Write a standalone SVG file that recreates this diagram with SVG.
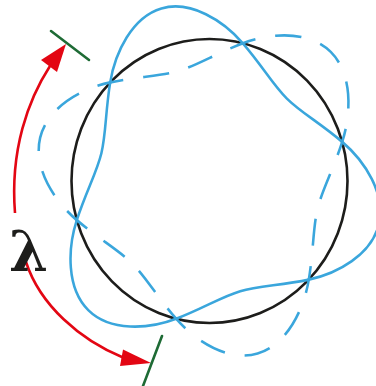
<svg xmlns="http://www.w3.org/2000/svg" width="376" height="386" viewBox="0 0 376 386">
<defs>
<style>
.circ{fill:none;stroke:#1d1d1b;stroke-width:2.6}
.wave{fill:none;stroke:#3aa6dc;stroke-width:2.6;stroke-linecap:round}
.dash{fill:none;stroke:#3aa6dc;stroke-width:2.6;stroke-linecap:butt;stroke-dasharray:25 19;stroke-dashoffset:12.5}
.red{fill:none;stroke:#e30613;stroke-width:2.6}
.head{fill:#e30613}
.tick{stroke:#1e6b35;stroke-width:2.6;stroke-linecap:round}
.lam{font-family:"DejaVu Serif","Liberation Serif",serif;font-weight:bold;font-size:56px;fill:#1d1d1b}
</style>
</defs>
<rect width="376" height="386" fill="#fff"/>
<g id="circle">
<ellipse class="circ" cx="209.5" cy="181" rx="138" ry="142"/>
</g>
<g id="wave-solid" transform="translate(209.5,181) scale(0.986,1.014) rotate(-16)">
<path class="wave" d="M140,0 C156.76,24.43 168.74,61.75 153.29,88.5 C137.84,115.25 99.54,123.53 70,121.24 C40.46,118.95 19.72,113 0,113 C-19.72,113 -40.46,118.950 -70,121.24 C-99.54,123.54 -137.85,115.25 -153.29,88.5 C-168.73,61.74 -156.75,24.43 -140,0 C-123.24,-24.44 -107.72,-39.42 -97.86,-56.5 C-88,-73.58 -82.78,-94.52 -70,-121.24 C-57.22,-147.98 -30.89,-177.01 0,-177 C30.89,-177 57.21,-147.97 70,-121.24 C82.78,-94.52 88,-73.58 97.86,-56.5 C107.72,-39.42 123.24,-24.44 140,0 Z"/>
</g>
<g id="wave-dashed" transform="translate(209.5,181) scale(0.986,1.014) rotate(44)">
<path class="dash" pathLength="176" d="M140,0 C156.76,24.43 168.74,61.75 153.29,88.5 C137.84,115.25 99.54,123.53 70,121.24"/>
<path class="dash" pathLength="132" d="M70,121.24 C40.46,118.95 19.72,113 0,113 C-19.72,113 -40.46,118.95 -70,121.24"/>
<path class="dash" pathLength="176" d="M-70,121.24 C-99.54,123.54 -137.85,115.25 -153.29,88.5 C-168.73,61.74 -156.75,24.43 -140,0"/>
<path class="dash" pathLength="132" d="M-140,0 C-123.24,-24.44 -107.72,-39.42 -97.86,-56.5 C-88,-73.58 -82.78,-94.52 -70,-121.24"/>
<path class="dash" pathLength="176" d="M-70,-121.24 C-57.22,-147.98 -30.89,-177.01 0,-177 C30.89,-177 57.21,-147.97 70,-121.24"/>
<path class="dash" pathLength="132" d="M70,-121.24 C82.78,-94.52 88,-73.58 97.86,-56.5 C107.72,-39.42 123.24,-24.44 140,0"/>
</g>
<g id="wavelength">
<path class="red" d="M50,66 C28,100 10,150 15,213"/>
<polygon class="head" points="66,44 41,60 57,72"/>
<path class="red" d="M26,262 C40,305 80,340 123,357.5"/>
<polygon class="head" points="151,363 123,349.5 120,366"/>
<line class="tick" x1="51" y1="31" x2="89" y2="60"/>
<line class="tick" x1="162" y1="336" x2="143" y2="386"/>
<text class="lam" x="9" y="271">λ</text>
</g>
</svg>
